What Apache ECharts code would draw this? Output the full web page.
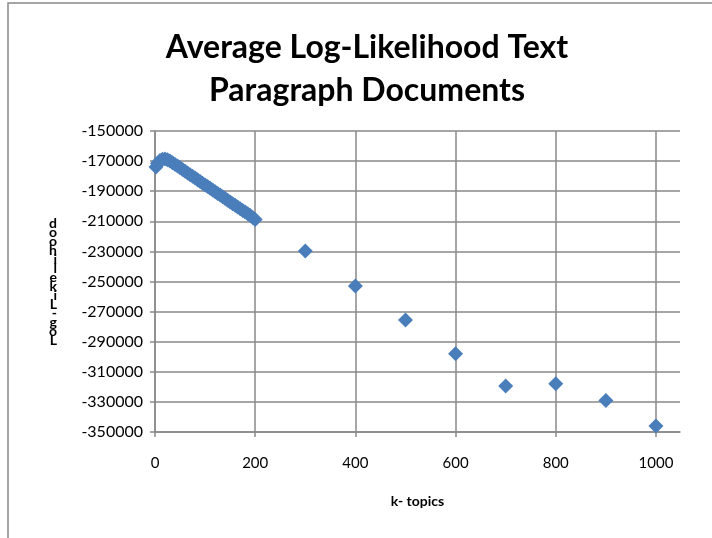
<!DOCTYPE html>
<html>
<head>
<meta charset="utf-8">
<script src="https://cdn.jsdelivr.net/npm/echarts@6/dist/echarts.min.js"></script>
<style>
  html, body { margin: 0; padding: 0; background: #fff; }
  #chart { width: 712px; height: 538px; }
</style>
</head>
<body>
<div id="chart"></div>
<script>
// dense run of k values up to 200
var denseK = [2, 5, 10, 15, 20, 25, 30, 35, 40, 45, 50, 55, 60, 65, 70, 75, 80, 85, 90, 95, 100,
  105, 110, 115, 120, 125, 130, 135, 140, 145, 150, 155, 160, 165, 170, 175, 180, 185, 190, 195, 200]
var denseLL = [-174000, -171500, -169600, -168800, -168600, -169100, -170000, -171100, -172200, -173300,
  -174500, -175600, -176700, -177900, -179000, -180100, -181300, -182400, -183500, -184700, -185800,
  -186900, -188100, -189200, -190300, -191500, -192600, -193700, -194900, -196000, -197100, -198300,
  -199400, -200500, -201700, -202800, -203900, -205000, -206200, -207500, -208800]
// sparse k values
var sparseK = [300, 400, 500, 600, 700, 800, 900, 1000]
var sparseLL = [-229700, -253000, -275600, -298000, -319400, -317900, -329000, -346000]

var xTicks = [0, 200, 400, 600, 800, 1000]
var titleLines = ['Average Log-Likelihood Text', 'Paragraph Documents']
var xName = 'k- topics'
var yName = 'Log-Likelihood'

var points = []
for (var i = 0; i < denseK.length; i++) points.push([denseK[i], denseLL[i]])
for (var j = 0; j < sparseK.length; j++) points.push([sparseK[j], sparseLL[j]])

var gridColor = '#898989'
var font = 'Lato, "Open Sans", sans-serif'

var chart = echarts.init(document.getElementById('chart'))
var option = {
  animation: false,
  backgroundColor: '#fff',
  title: {
    text: titleLines.join('\n'),
    left: 362,
    top: 21,
    textAlign: 'center',
    textStyle: {
      fontFamily: font,
      fontSize: 32,
      fontWeight: 'bold',
      color: '#000',
      lineHeight: 43
    }
  },
  graphic: [{
    type: 'rect',
    shape: { x: 8, y: 3, width: 720, height: 560 },
    style: { fill: 'none', stroke: gridColor, lineWidth: 1.5 },
    silent: true
  }],
  grid: { left: 155, right: 32, top: 131, bottom: 106 },
  xAxis: {
    type: 'value',
    min: 0,
    max: 1048,
    interval: 200,
    name: xName,
    nameLocation: 'middle',
    nameGap: 62,
    nameTextStyle: { fontFamily: font, fontSize: 14, fontWeight: 'bold', color: '#000' },
    axisLine: { show: true, lineStyle: { color: gridColor, width: 1.5 } },
    axisTick: { show: true, length: 5, lineStyle: { color: gridColor, width: 1.5 } },
    axisLabel: {
      margin: 24,
      fontFamily: font,
      fontSize: 15,
      color: '#000',
      showMaxLabel: false,
      formatter: function (v) { return xTicks.indexOf(v) >= 0 ? String(v) : '' }
    },
    splitLine: { show: true, showMaxLine: false, lineStyle: { color: gridColor, width: 1.5 } }
  },
  yAxis: {
    type: 'value',
    min: -350000,
    max: -150000,
    interval: 20000,
    name: yName.split('').reverse().join('\n'),
    nameLocation: 'middle',
    nameGap: 98,
    nameRotate: 0,
    nameTextStyle: { fontFamily: font, fontSize: 14, fontWeight: 'bold', color: '#000', lineHeight: 9 },
    axisLine: { show: true, lineStyle: { color: gridColor, width: 1.5 } },
    axisTick: { show: true, length: 5, lineStyle: { color: gridColor, width: 1.5 } },
    axisLabel: {
      margin: 12,
      fontFamily: font,
      fontSize: 16,
      color: '#000',
      formatter: function (v) { return String(v) }
    },
    splitLine: { show: true, lineStyle: { color: gridColor, width: 1.5 } }
  },
  series: [{
    type: 'scatter',
    symbol: 'diamond',
    symbolSize: 15,
    itemStyle: { color: '#4a7ebb', opacity: 1 },
    data: points
  }]
}
chart.setOption(option)
</script>
</body>
</html>
